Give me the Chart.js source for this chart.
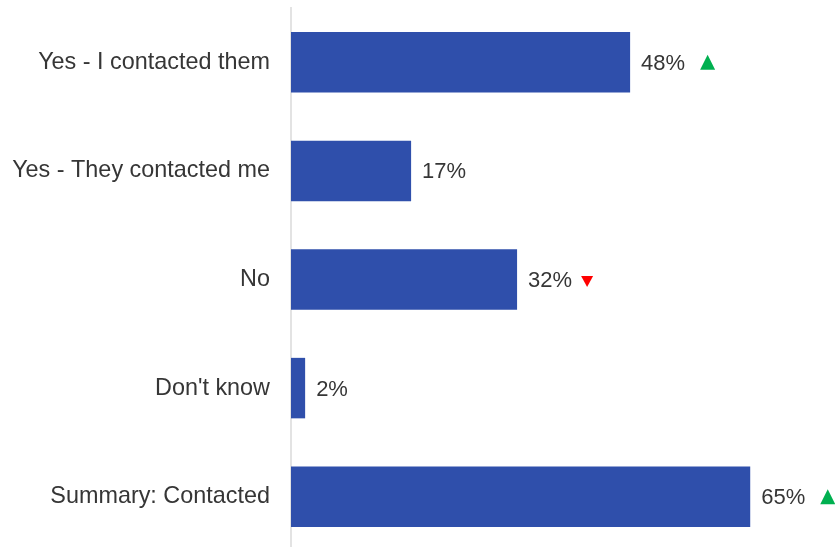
<!DOCTYPE html>
<html>
<head>
<meta charset="utf-8">
<script src="https://cdn.jsdelivr.net/npm/chart.js@4"></script>
<style>
  html, body { margin: 0; padding: 0; background: #fff; overflow: hidden; }
</style>
</head>
<body>
<canvas id="myChart" width="835" height="551"></canvas>
<script>
var labels = ["Yes - I contacted them", "Yes - They contacted me", "No", "Don't know", "Summary: Contacted"];
var values = [48, 17, 32, 2, 65];
// significance markers shown after each value: up, down or none
var changes = ["up", "", "down", "", "up"];

var textColor = '#363636';
var fontFamily = '"Liberation Sans", Arial, sans-serif';

// writes "NN%" after each bar and the arrow marker next to it
var valueLabels = {
    id: 'valueLabels',
    afterDatasetsDraw: function (chart) {
        var ctx = chart.ctx;
        var meta = chart.getDatasetMeta(0);
        ctx.save();
        ctx.font = '22px ' + fontFamily;
        ctx.textAlign = 'left';
        ctx.textBaseline = 'middle';
        meta.data.forEach(function (bar, i) {
            var str = values[i] + '%';
            var x = bar.x + 11;
            var y = bar.y + 1.5;
            ctx.fillStyle = textColor;
            ctx.fillText(str, x, y);
            var w = ctx.measureText(str).width;
            var tx;
            if (changes[i] == 'up') {
                tx = x + w + 15;
                ctx.fillStyle = '#00b050';
                ctx.beginPath();
                ctx.moveTo(tx, y + 6);
                ctx.lineTo(tx + 15, y + 6);
                ctx.lineTo(tx + 7.5, y - 9);
                ctx.closePath();
                ctx.fill();
            } else if (changes[i] == 'down') {
                tx = x + w + 9;
                ctx.fillStyle = '#ff0000';
                ctx.beginPath();
                ctx.moveTo(tx, y - 5);
                ctx.lineTo(tx + 12, y - 5);
                ctx.lineTo(tx + 6, y + 6);
                ctx.closePath();
                ctx.fill();
            }
        });
        ctx.restore();
    }
};

var ctx = document.getElementById("myChart").getContext('2d');
var myChart = new Chart(ctx, {
    type: 'bar',
    data: {
        labels: labels,
        datasets: [{
            data: values,
            backgroundColor: '#2f4fab',
            categoryPercentage: 1,
            barPercentage: 0.557
        }]
    },
    options: {
        indexAxis: 'y',
        responsive: false,
        animation: false,
        layout: { padding: { top: 8, right: 0, bottom: 0, left: 0 } },
        plugins: {
            legend: { display: false },
            tooltip: { enabled: false }
        },
        scales: {
            x: {
                display: false,
                min: 0,
                max: 77
            },
            y: {
                afterFit: function (scale) {
                    scale.width = 291;
                    scale.paddingTop = 0;
                    scale.paddingBottom = 0;
                },
                grid: { display: false, drawTicks: false },
                border: { display: true, color: '#e3e3e3', width: 2 },
                ticks: {
                    padding: 21,
                    color: textColor,
                    font: { size: 23.4, family: fontFamily }
                }
            }
        }
    },
    plugins: [valueLabels]
});
</script>
</body>
</html>
